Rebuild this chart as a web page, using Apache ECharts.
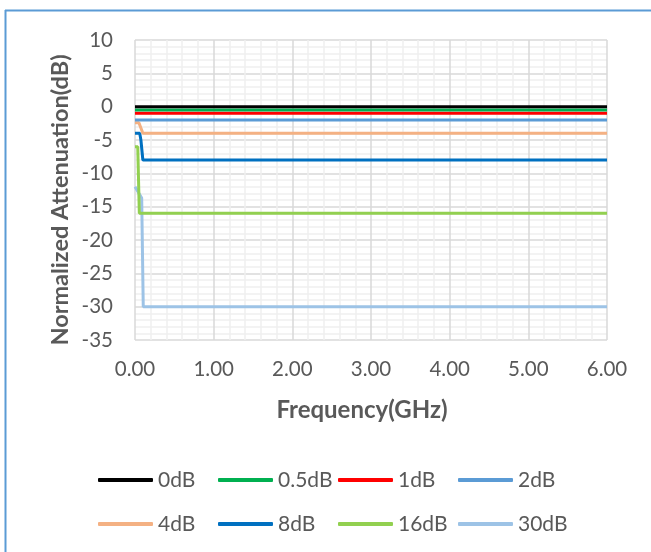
<!DOCTYPE html>
<html><head><meta charset="utf-8">
<script src="https://cdn.jsdelivr.net/npm/echarts@6/dist/echarts.min.js"></script>
<style>html,body{margin:0;padding:0;background:#fff}#c{width:651px;height:552px}</style>
</head><body><div id="c"></div>
<script>
const seriesNames = ['0dB','0.5dB','1dB','2dB','4dB','8dB','16dB','30dB'];
const seriesColors = ['#000000','#00b050','#ff0000','#5b9bd5','#f4b183','#0070c0','#92d050','#9dc3e6'];
const s0dB   = [[0,0],[6,0]];
const s05dB  = [[0,-0.5],[6,-0.5]];
const s1dB   = [[0,-1],[6,-1]];
const s2dB   = [[0,-2],[6,-2]];
const s4dB   = [[0,-2.4],[0.05,-2.4],[0.075,-3.2],[0.1,-4],[6,-4]];
const s8dB   = [[0,-4],[0.06,-4],[0.075,-5],[0.1,-8],[6,-8]];
const s16dB  = [[0,-6],[0.035,-6],[0.055,-16],[6,-16]];
const s30dB  = [[0,-12],[0.085,-13.7],[0.105,-30],[6,-30]];
const allData = [s0dB,s05dB,s1dB,s2dB,s4dB,s8dB,s16dB,s30dB];
const xTicks = {min:0,max:6,interval:1};
const yTicks = {min:-35,max:10,interval:5};

const chart = echarts.init(document.getElementById('c'), null, {renderer:'canvas'});
const font = 'Lato, "Open Sans", sans-serif';
const legendCommon = {
  orient:'horizontal', icon:'roundRect', itemWidth:55, itemHeight:4, itemGap:5,
  textStyle:{color:'#595959', fontSize:21, fontFamily:font, width:55, lineHeight:24}
};
chart.setOption({
  animation:false,
  grid:{left:135, right:44, top:40, bottom:212},
  xAxis:{type:'value', min:xTicks.min, max:xTicks.max, interval:xTicks.interval,
    axisLine:{show:false}, axisTick:{show:false},
    axisLabel:{color:'#595959', fontSize:20.5, fontFamily:font, margin:19, formatter:v=>v.toFixed(2)},
    splitLine:{show:true, lineStyle:{color:'#d9d9d9', width:1.5}},
    minorTick:{show:false, splitNumber:5},
    minorSplitLine:{show:true, lineStyle:{color:'#f0f0f0', width:1.5}}},
  yAxis:{type:'value', min:yTicks.min, max:yTicks.max, interval:yTicks.interval,
    axisLine:{show:false}, axisTick:{show:false},
    axisLabel:{color:'#595959', fontSize:20.5, fontFamily:font, margin:22},
    splitLine:{show:true, lineStyle:{color:'#d9d9d9', width:1.5}},
    minorTick:{show:false, splitNumber:5},
    minorSplitLine:{show:true, lineStyle:{color:'#f0f0f0', width:1.5}}},
  legend:[
    Object.assign({left:93, top:463, data:seriesNames.slice(0,4)}, legendCommon),
    Object.assign({left:93, top:507, data:seriesNames.slice(4)}, legendCommon)
  ],
  graphic:[
    {type:'line', shape:{x1:5,y1:10.5,x2:651,y2:10.5}, style:{stroke:'#5b9bd5', lineWidth:2}},
    {type:'line', shape:{x1:5.5,y1:10,x2:5.5,y2:552}, style:{stroke:'#5b9bd5', lineWidth:2}},
    {type:'text', x:60, y:200, rotation:Math.PI/2, style:{text:'Normalized Attenuation(dB)', fill:'#595959', font:'bold 23.5px '+font, align:'center', verticalAlign:'middle'}},
    {type:'text', x:362, y:410, style:{text:'Frequency(GHz)', fill:'#595959', font:'bold 24px '+font, align:'center', verticalAlign:'middle'}}
  ],
  series: seriesNames.map((n,i)=>({
    name:n, type:'line', data:allData[i], showSymbol:false, symbol:'none',
    lineStyle:{color:seriesColors[i], width:3}, itemStyle:{color:seriesColors[i]},
    z: 10 + (seriesNames.length - i)
  }))
});
</script></body></html>
